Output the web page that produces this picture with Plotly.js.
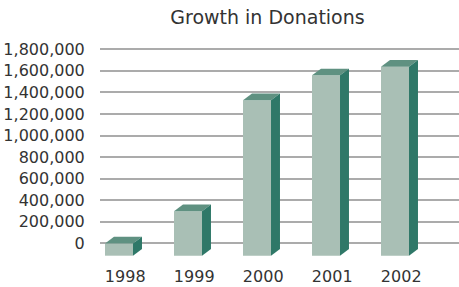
<!DOCTYPE html>
<html>
<head>
<meta charset="utf-8">
<script src="https://cdn.plot.ly/plotly-3.0.1.min.js"></script>
<style>
html,body{margin:0;padding:0;background:#fff;}
#chart{width:459px;height:287px;}
</style>
</head>
<body>
<div id="chart"></div>
<script>
// Data
var categories = ['1998', '1999', '2000', '2001', '2002'];
var donations = [60000, 360000, 1390000, 1620000, 1700000];
var yTickValues = [0, 200000, 400000, 600000, 800000, 1000000, 1200000, 1400000, 1600000, 1800000];
var yTickLabels = ['0', '200,000', '400,000', '600,000', '800,000', '1,000,000', '1,200,000', '1,400,000', '1,600,000', '1,800,000'];

// 3D look parameters (in axis units)
var barWidth = 0.406;
var depthX = 0.13;
var depthY = 62000;
var floorBase = -115000;

var xs = categories.map(function (c, i) { return i; });
var frontHeights = donations.map(function (v) { return v - depthY - floorBase; });

var shapes = [];
donations.forEach(function (v, i) {
  var L = xs[i] - barWidth / 2, R = xs[i] + barWidth / 2;
  var T = v - depthY, B = floorBase;
  shapes.push({
    type: 'path', xref: 'x', yref: 'y', layer: 'above',
    path: 'M' + L + ',' + T + ' L' + R + ',' + T + ' L' + (R + depthX) + ',' + (T + depthY) +
          ' L' + (L + depthX) + ',' + (T + depthY) + ' Z',
    fillcolor: '#5f9181', line: {width: 0}
  });
  shapes.push({
    type: 'path', xref: 'x', yref: 'y', layer: 'above',
    path: 'M' + R + ',' + B + ' L' + R + ',' + T + ' L' + (R + depthX) + ',' + (T + depthY) +
          ' L' + (R + depthX) + ',' + (B + depthY) + ' Z',
    fillcolor: '#2f7868', line: {width: 0}
  });
});

var trace = {
  type: 'bar',
  x: xs,
  y: frontHeights,
  base: floorBase,
  width: barWidth,
  marker: {color: '#a9bfb5', line: {width: 0}},
  hoverinfo: 'skip'
};

var layout = {
  width: 459, height: 287,
  margin: {l: 100, r: 0, t: 40, b: 31},
  paper_bgcolor: '#ffffff', plot_bgcolor: '#ffffff',
  showlegend: false,
  font: {family: 'DejaVu Sans', size: 16, color: '#333333'},
  title: {
    text: 'Growth in Donations',
    font: {family: 'DejaVu Sans', size: 19, color: '#333333'},
    xref: 'container', yref: 'container',
    x: 267.5 / 459, y: 1 - 17 / 287, xanchor: 'center', yanchor: 'middle'
  },
  xaxis: {
    range: [-0.2754, 4.9275],
    tickmode: 'array',
    tickvals: xs.map(function (x) { return x + 0.09; }),
    ticktext: categories,
    showgrid: false, zeroline: false, showline: false,
    ticks: 'outside', ticklen: 6, tickcolor: 'rgba(0,0,0,0)',
    tickfont: {family: 'DejaVu Sans', size: 16, color: '#333333'},
    fixedrange: true
  },
  yaxis: {
    range: [-117800, 1886000],
    tickmode: 'array',
    tickvals: yTickValues,
    ticktext: yTickLabels,
    showgrid: true, gridcolor: '#ababab', gridwidth: 2,
    zeroline: false, showline: false,
    ticks: 'outside', ticklen: 11, tickcolor: 'rgba(0,0,0,0)',
    tickfont: {family: 'DejaVu Sans', size: 16, color: '#333333'},
    fixedrange: true
  },
  shapes: shapes
};

Plotly.newPlot('chart', [trace], layout, {displayModeBar: false, staticPlot: true});
</script>
</body>
</html>
